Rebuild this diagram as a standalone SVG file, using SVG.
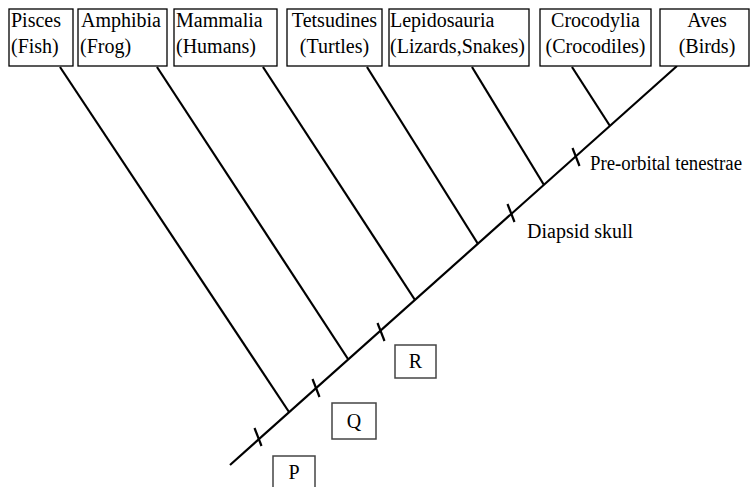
<svg xmlns="http://www.w3.org/2000/svg" width="752" height="487" viewBox="0 0 752 487">
<style>
text{font-family:"Liberation Serif","Times New Roman",serif;font-size:20px;fill:#000}
.box{fill:#fff;stroke:#000;stroke-width:1.3}
.sbox{fill:#fff;stroke:#444;stroke-width:1.5}
.ln{stroke:#000;stroke-width:2.2;fill:none;stroke-linecap:butt}
.c{text-anchor:middle}
</style>
<rect width="752" height="487" fill="#fff"/>
<g id="connectors">
<line class="ln" x1="230" y1="465" x2="677" y2="66"/>
<line class="ln" x1="60" y1="67" x2="289" y2="412"/>
<line class="ln" x1="157" y1="67" x2="348" y2="359"/>
<line class="ln" x1="263" y1="67" x2="415" y2="300"/>
<line class="ln" x1="367" y1="67" x2="478" y2="244"/>
<line class="ln" x1="472" y1="67" x2="544" y2="185"/>
<line class="ln" x1="572" y1="67" x2="610" y2="126"/>
<line class="ln" x1="254.5" y1="428" x2="261.5" y2="446"/>
<line class="ln" x1="312.5" y1="379" x2="319.5" y2="397"/>
<line class="ln" x1="377.5" y1="323" x2="384.5" y2="341"/>
<line class="ln" x1="507.5" y1="204" x2="514.5" y2="222"/>
<line class="ln" x1="572.5" y1="148" x2="579.5" y2="166"/>
</g>
<g id="pisces"><rect class="box" x="9" y="9" width="64" height="57"/><text x="11" y="27">Pisces</text><text x="11" y="53">(Fish)</text></g>
<g id="amphibia"><rect class="box" x="78" y="9" width="89" height="57"/><text x="81" y="27">Amphibia</text><text x="80" y="53">(Frog)</text></g>
<g id="mammalia"><rect class="box" x="174" y="9" width="103" height="57"/><text x="176" y="27">Mammalia</text><text x="176" y="53">(Humans)</text></g>
<g id="tetsudines"><rect class="box" x="287" y="9" width="95" height="57"/><text class="c" x="334.5" y="27">Tetsudines</text><text class="c" x="334.5" y="53">(Turtles)</text></g>
<g id="lepidosauria"><rect class="box" x="389" y="9" width="140" height="57"/><text x="390" y="27">Lepidosauria</text><text x="390" y="53">(Lizards,Snakes)</text></g>
<g id="crocodylia"><rect class="box" x="540" y="9" width="111" height="57"/><text class="c" x="595.5" y="27">Crocodylia</text><text class="c" x="595.5" y="53">(Crocodiles)</text></g>
<g id="aves"><rect class="box" x="660" y="9" width="89" height="57"/><text class="c" x="707" y="27">Aves</text><text class="c" x="707" y="53">(Birds)</text></g>
<g id="preorbital"><text x="590" y="170" textLength="152" lengthAdjust="spacingAndGlyphs">Pre-orbital tenestrae</text></g>
<g id="diapsid"><text x="527" y="238">Diapsid skull</text></g>
<g id="R"><rect class="sbox" x="395" y="345" width="41" height="33"/><text class="c" x="415.5" y="368">R</text></g>
<g id="Q"><rect class="sbox" x="332" y="403" width="44" height="36"/><text class="c" x="354" y="428">Q</text></g>
<g id="P"><rect class="sbox" x="273" y="456" width="42" height="40"/><text class="c" x="294" y="479">P</text></g>
</svg>
